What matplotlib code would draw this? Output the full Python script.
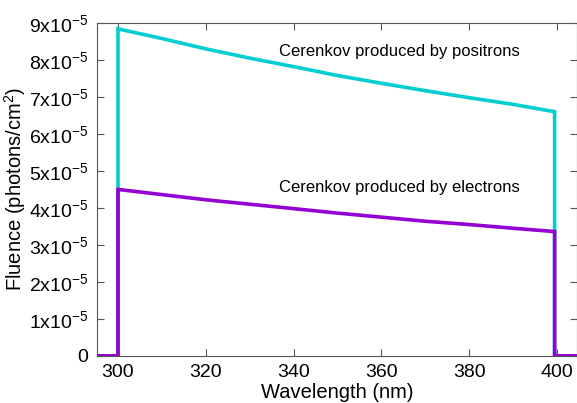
import matplotlib
matplotlib.use("Agg")
import matplotlib.pyplot as plt

plt.rcParams["font.family"] = ["Liberation Sans", "DejaVu Sans"]
plt.rcParams["mathtext.fontset"] = "custom"
plt.rcParams["mathtext.rm"] = "Liberation Sans"
plt.rcParams["mathtext.default"] = "regular"

# wavelength (nm) and fluence (photons/cm^2)
wl = [295, 300, 300, 310, 320, 330, 340, 350, 360, 370, 380, 390, 399.5, 399.5, 405]
positrons = [0, 0, 8.84e-5, 8.58e-5, 8.30e-5, 8.05e-5, 7.82e-5, 7.58e-5,
             7.37e-5, 7.17e-5, 6.98e-5, 6.80e-5, 6.60e-5, 0, 0]
electrons = [0, 0, 4.50e-5, 4.36e-5, 4.22e-5, 4.10e-5, 3.98e-5, 3.86e-5,
             3.75e-5, 3.64e-5, 3.55e-5, 3.45e-5, 3.36e-5, 0, 0]

xticks = [300, 320, 340, 360, 380, 400]
yticks = [i * 1e-5 for i in range(10)]
ylabels = ["0"] + [r"%dx10$^{-5}$" % i for i in range(1, 10)]

fig = plt.figure(figsize=(5.77, 4.03), dpi=100)
ax = fig.add_axes([0.168, 0.117, 0.832, 0.826])

ax.plot(wl, positrons, color="#00ced1", lw=2.6, solid_joinstyle="miter")
ax.plot(wl, electrons, color="#9400d3", lw=2.6, solid_joinstyle="miter")

ax.text(364.2, 8.24e-5, "Cerenkov produced by positrons", fontsize=12, ha="center", va="center")
ax.text(364.2, 4.54e-5, "Cerenkov produced by electrons", fontsize=12, ha="center", va="center")

ax.set_xlim(295.2, 404.6)
ax.set_ylim(0, 9e-5)
ax.set_xticks(xticks)
ax.set_yticks(yticks)
ax.set_yticklabels(ylabels)
ax.tick_params(direction="in", top=True, right=True, labelsize=14, length=5,
               color="#555555", pad=6)
for s in ax.spines.values():
    s.set_color("#555555")
    s.set_linewidth(0.8)

ax.set_xlabel("Wavelength (nm)", fontsize=14.5, labelpad=1)
ax.set_ylabel(r"Fluence (photons/cm$^2$)", fontsize=14.5, labelpad=1)

fig.savefig("out.png", dpi=100)
